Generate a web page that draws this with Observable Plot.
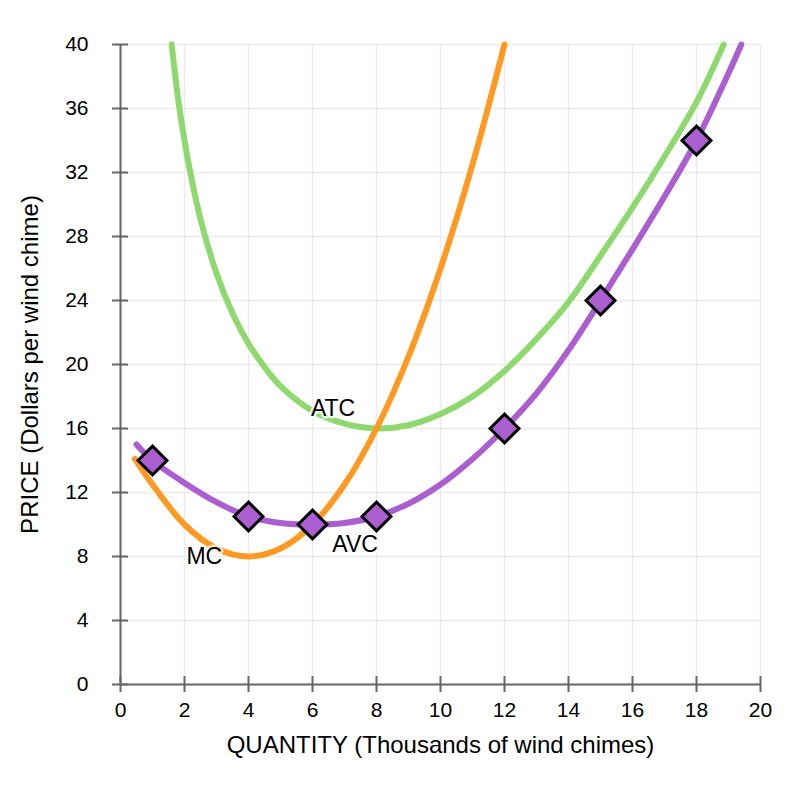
<!DOCTYPE html>
<html>
<head>
<meta charset="utf-8">
<script src="https://cdn.jsdelivr.net/npm/d3@7"></script>
<script src="https://cdn.jsdelivr.net/npm/@observablehq/plot@0.6"></script>
<style>
  body { margin: 0; background: #fff; }
  #chart svg { display: block; }
</style>
</head>
<body>
<div id="chart"></div>
<script>
// ---- data ----
const xTicks = [0, 2, 4, 6, 8, 10, 12, 14, 16, 18, 20];
const yTicks = [0, 4, 8, 12, 16, 20, 24, 28, 32, 36, 40];

// Marginal cost curve
const mcQ = [0.45, 1, 2, 3, 4, 5, 6, 7, 8, 9, 10, 11, 12];
const mcP = [14.1, 12.5, 10.0, 8.5, 8.0, 8.5, 10.0, 12.5, 16.0, 20.5, 26.0, 32.5, 40.0];

// Average variable cost curve
const avcQ = [0.5, 1, 2, 3, 4, 5, 6, 7, 8, 9, 10, 11, 12, 13, 14, 15, 16, 17, 18, 19, 19.4];
const avcP = [15.0, 14.0, 12.6, 11.4, 10.5, 10.1, 10.0, 10.1, 10.5, 11.3, 12.5, 14.1, 16.0, 18.2, 20.9, 24.0, 27.2, 30.5, 34.0, 38.2, 40.0];

// Average total cost curve
const atcQ = [1.6, 1.8, 2, 2.2, 2.5, 3, 3.5, 4, 4.5, 5, 6, 7, 8, 9, 10, 11, 12, 13, 14, 15, 16, 17, 18, 18.85];
const atcP = [40.0, 36.6, 34.0, 31.8, 29.1, 25.7, 23.2, 21.3, 19.85, 18.65, 17.1, 16.3, 16.0, 16.2, 16.9, 18.0, 19.6, 21.6, 23.9, 26.8, 29.8, 33.0, 36.4, 40.0];

// AVC points (diamonds)
const ptQ = [1, 4, 6, 8, 12, 15, 18];
const ptP = [14, 10.5, 10, 10.5, 16, 24, 34];

// curve labels
const labelText = ["ATC", "MC", "AVC"];
const labelQ = [5.95, 2.06, 6.62];
const labelP = [17.25, 8.0, 8.75];

const xTitle = "QUANTITY (Thousands of wind chimes)";
const yTitle = "PRICE (Dollars per wind chime)";

// ---- build tables ----
const zip = (xs, ys) => xs.map((x, i) => ({x, y: ys[i]}));
const mc = zip(mcQ, mcP);
const avc = zip(avcQ, avcP);
const atc = zip(atcQ, atcP);
const pts = zip(ptQ, ptP);
const labels = labelText.map((t, i) => ({t, x: labelQ[i], y: labelP[i]}));

const purple = "#aa5ecf";
const orange = "#ff9922";
const green = "#8dd96d";
const axisGray = "#666666";

const chart = Plot.plot({
  width: 786,
  height: 788,
  marginLeft: 120,
  marginRight: 26,
  marginTop: 44,
  marginBottom: 104,
  style: {fontFamily: "'Liberation Sans', Arial, Helvetica, sans-serif", fontSize: "21px", background: "#fff", color: "#000"},
  x: {domain: [0, 20], ticks: xTicks, axis: null},
  y: {domain: [0, 40], ticks: yTicks, axis: null},
  marks: [
    Plot.gridX(xTicks, {stroke: "#ececec", strokeOpacity: 1, strokeWidth: 1.5}),
    Plot.gridY(yTicks, {stroke: "#ececec", strokeOpacity: 1, strokeWidth: 1.5}),
    // tick labels
    Plot.text(xTicks, {x: (d) => d, frameAnchor: "bottom", dy: 32, fontSize: 21, fill: "#000"}),
    Plot.text(yTicks, {y: (d) => d, frameAnchor: "left", textAnchor: "end", dx: -32, fontSize: 21, fill: "#000"}),
    // crossing tick marks and axis lines
    Plot.ruleX(xTicks, {y1: 0, y2: 0, insetTop: -8, insetBottom: -8, stroke: axisGray, strokeWidth: 2}),
    Plot.ruleY(yTicks, {x1: 0, x2: 0, insetLeft: -8, insetRight: -8, stroke: axisGray, strokeWidth: 2}),
    Plot.ruleX([0], {stroke: axisGray, strokeWidth: 2}),
    Plot.ruleY([0], {stroke: axisGray, strokeWidth: 2}),
    // curves
    Plot.line(atc, {x: "x", y: "y", stroke: green, strokeWidth: 6, curve: "catmull-rom"}),
    Plot.line(mc, {x: "x", y: "y", stroke: orange, strokeWidth: 6, curve: "catmull-rom"}),
    Plot.line(avc, {x: "x", y: "y", stroke: purple, strokeWidth: 6, curve: "catmull-rom"}),
    Plot.dot(pts, {x: "x", y: "y", symbol: "diamond2", r: 13, fill: purple, stroke: "#000", strokeWidth: 3, fillOpacity: 1}),
    Plot.text(labels, {x: "x", y: "y", text: "t", textAnchor: "start", fontSize: 23, fill: "#000",
      stroke: "white", strokeWidth: 5, strokeOpacity: 0.75}),
    Plot.text([xTitle], {frameAnchor: "bottom", dy: 68, fontSize: 24, fill: "#000"}),
    Plot.text([yTitle], {frameAnchor: "left", textAnchor: "middle", dx: -90, rotate: -90, fontSize: 24, fill: "#000"})
  ]
});
document.getElementById("chart").appendChild(chart);
</script>
</body>
</html>
